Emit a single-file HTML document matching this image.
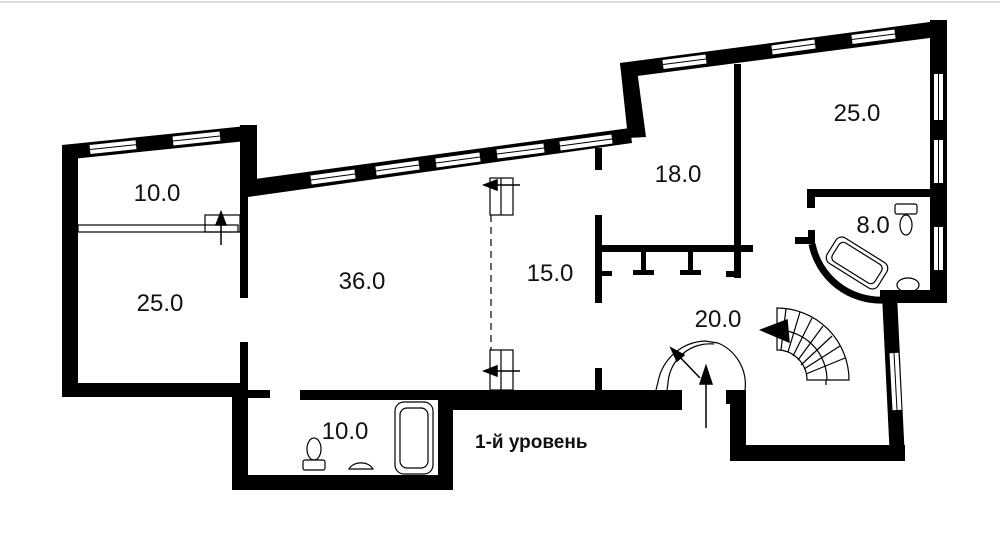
<!DOCTYPE html>
<html><head><meta charset="utf-8"><style>
html,body{margin:0;padding:0;background:#fff;}
svg{display:block}
text{font-family:"Liberation Sans",sans-serif;fill:#111}
</style></head><body>
<svg width="1000" height="537" viewBox="0 0 1000 537" xmlns="http://www.w3.org/2000/svg">
<rect width="1000" height="537" fill="#fff"/>
<line x1="0" y1="2" x2="1000" y2="2" stroke="#ddd" stroke-width="2"/>
<g fill="#000">
<rect x="62" y="145" width="16" height="252"/>
<rect x="62" y="383" width="186" height="14"/>
<polygon points="62,145 256,125 256,140 62,160"/>
<rect x="240" y="125" width="17" height="70"/>
<rect x="240" y="190" width="8" height="108"/>
<rect x="240" y="342" width="8" height="56"/>
<polygon points="248,180 630,128 632,143 248,197"/>
<rect x="246" y="390" width="24" height="8"/>
<rect x="300" y="390" width="382" height="10"/>
<rect x="438" y="390" width="244" height="20"/>
<rect x="232" y="397" width="16" height="93"/>
<rect x="232" y="475" width="221" height="15"/>
<rect x="438" y="405" width="15" height="85"/>
<polygon points="620,63 636,62 646,137 628,138"/>
<polygon points="620,63 945,20 945,36 622,78"/>
<rect x="930" y="20" width="17" height="283"/>
<rect x="734" y="64" width="7" height="188"/>
<rect x="600" y="245" width="153" height="7"/>
<rect x="595" y="148" width="7" height="22"/>
<rect x="595" y="215" width="7" height="88"/>
<rect x="595" y="368" width="7" height="22"/>
<rect x="641" y="252" width="5" height="23"/><rect x="633" y="270" width="21" height="5"/>
<rect x="688" y="252" width="5" height="23"/><rect x="680" y="270" width="21" height="5"/>
<rect x="734" y="252" width="7" height="26"/><rect x="726" y="271" width="15" height="6"/>
<rect x="600" y="271" width="12" height="5"/>
<rect x="807" y="189" width="125" height="8"/>
<rect x="807" y="189" width="8" height="19"/>
<rect x="795" y="237" width="20" height="7"/>
<rect x="808" y="230" width="7" height="14"/>
<rect x="880" y="290" width="67" height="13"/>
<polygon points="882,295 897,295 905,460 890,460"/>
<rect x="730" y="445" width="175" height="16"/>
<rect x="730" y="392" width="16" height="69"/>
<rect x="726" y="390" width="20" height="14"/>
</g>
<path d="M812,244 A70,70 0 0 0 884,300" fill="none" stroke="#000" stroke-width="7"/>
<g stroke="#fff" stroke-width="9">
<line x1="90" y1="149.5" x2="136" y2="144.7"/>
<line x1="173" y1="141" x2="220" y2="136"/>
<line x1="311" y1="180" x2="355" y2="174"/>
<line x1="376" y1="171" x2="419" y2="165"/>
<line x1="436" y1="163" x2="480" y2="157"/>
<line x1="497" y1="154" x2="544" y2="148"/>
<line x1="560" y1="146" x2="612" y2="139"/>
<line x1="663" y1="64.5" x2="706" y2="59"/>
<line x1="772" y1="50" x2="815" y2="44"/>
<line x1="852" y1="39.5" x2="895" y2="34"/>
<line x1="938.5" y1="74" x2="938.5" y2="120"/>
<line x1="938.5" y1="140" x2="938.5" y2="183"/>
<line x1="938.5" y1="227" x2="938.5" y2="270"/>
<line x1="894" y1="353" x2="897" y2="410"/>
</g>
<g stroke="#000" stroke-width="1">
<line x1="90" y1="149.5" x2="136" y2="144.7"/>
<line x1="173" y1="141" x2="220" y2="136"/>
<line x1="311" y1="180" x2="355" y2="174"/>
<line x1="376" y1="171" x2="419" y2="165"/>
<line x1="436" y1="163" x2="480" y2="157"/>
<line x1="497" y1="154" x2="544" y2="148"/>
<line x1="560" y1="146" x2="612" y2="139"/>
<line x1="663" y1="64.5" x2="706" y2="59"/>
<line x1="772" y1="50" x2="815" y2="44"/>
<line x1="852" y1="39.5" x2="895" y2="34"/>
<line x1="938.5" y1="74" x2="938.5" y2="120"/>
<line x1="938.5" y1="140" x2="938.5" y2="183"/>
<line x1="938.5" y1="227" x2="938.5" y2="270"/>
<line x1="894" y1="353" x2="897" y2="410"/>
</g>
<g fill="none" stroke="#000" stroke-width="1.2">
<rect x="78" y="225" width="160" height="7"/>
<rect x="205" y="215" width="35" height="17"/>
<rect x="490" y="178" width="23" height="37"/>
<line x1="501" y1="178" x2="501" y2="215"/>
<rect x="490" y="350" width="23" height="40"/>
<line x1="501" y1="350" x2="501" y2="390"/>
<line x1="491" y1="215" x2="491" y2="350" stroke-dasharray="7,5"/>
<rect x="395" y="402" width="38" height="72" rx="9"/>
<rect x="400" y="408" width="28" height="60" rx="7"/>
<rect x="303" y="460" width="22" height="10" rx="2"/>
<ellipse cx="314" cy="449" rx="7" ry="11"/>
<path d="M349,469 A13,10 0 0 1 373,469 Z"/>
<g transform="rotate(32 857 263)"><rect x="827" y="248" width="60" height="30" rx="7"/><rect x="832" y="252" width="50" height="22" rx="5"/></g>
<rect x="895" y="204" width="22" height="10" rx="2"/>
<ellipse cx="906" cy="225" rx="6" ry="10"/>
<ellipse cx="908" cy="285" rx="11" ry="7"/>
<path d="M777,308 A72,72 0 0 1 849,380 L807,380 A30,30 0 0 0 777,350 Z"/>
<path d="M777,330 A50,50 0 0 1 827,380"/>
<g>
<line x1="786" y1="309" x2="781" y2="350"/>
<line x1="800" y1="312" x2="788" y2="352"/>
<line x1="812" y1="318" x2="793" y2="356"/>
<line x1="823" y1="326" x2="798" y2="360"/>
<line x1="832" y1="336" x2="801" y2="365"/>
<line x1="840" y1="346" x2="804" y2="369"/>
<line x1="845" y1="358" x2="806" y2="374"/>
<line x1="826" y1="380" x2="826" y2="385"/>
</g>
<path d="M656,390 L658,382 A50,50 0 0 1 705,341 L718,343 A45,45 0 0 1 745,390"/>
<path d="M667,390 L668,383 A42,42 0 0 1 714,344"/>
</g>
<g stroke="#000" stroke-width="1.5" fill="#000">
<line x1="221" y1="245" x2="221" y2="220"/><polygon points="216,225 221,212 226,225"/>
<line x1="520" y1="185" x2="492" y2="185"/><polygon points="497,180 484,185 497,190"/>
<line x1="520" y1="371" x2="492" y2="371"/><polygon points="497,366 484,371 497,376"/>
<line x1="706" y1="428" x2="706" y2="380"/><polygon points="700,384 706,366 712,384"/>
<line x1="700" y1="378" x2="677" y2="354"/><polygon points="671,348 684,355 677,361"/>
<polygon points="761,330 787,320 789,342"/>
</g>
<g font-size="24">
<text x="157" y="201" text-anchor="middle">10.0</text>
<text x="160" y="311" text-anchor="middle">25.0</text>
<text x="362" y="289" text-anchor="middle">36.0</text>
<text x="550" y="281" text-anchor="middle">15.0</text>
<text x="678" y="182" text-anchor="middle">18.0</text>
<text x="857" y="121" text-anchor="middle">25.0</text>
<text x="873" y="233" text-anchor="middle">8.0</text>
<text x="718" y="327" text-anchor="middle">20.0</text>
<text x="345" y="439" text-anchor="middle">10.0</text>
</g>
<text x="475" y="448" font-size="19" font-weight="bold">1-й уровень</text>
</svg>
</body></html>
